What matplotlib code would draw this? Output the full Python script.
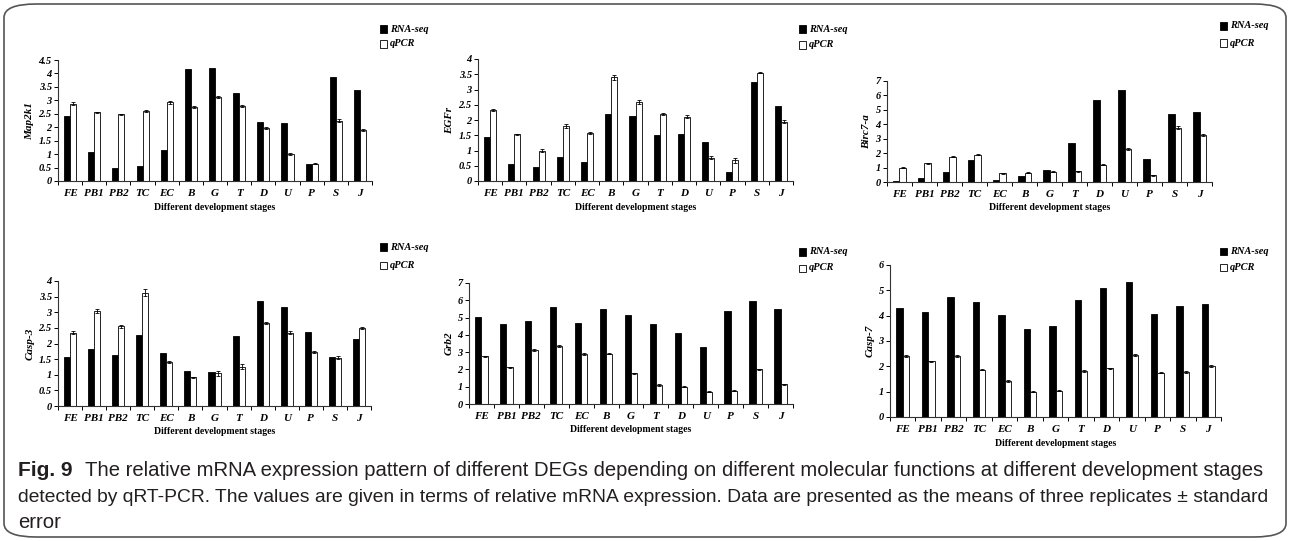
import matplotlib
matplotlib.use("Agg")
import matplotlib.pyplot as plt
import numpy as np
from matplotlib.patches import FancyBboxPatch

stages = ["FE", "PB1", "PB2", "TC", "EC", "B", "G", "T", "D", "U", "P", "S", "J"]

# Map2k1
map2k1_rna = [2.4, 1.07, 0.5, 0.55, 1.17, 4.15, 4.22, 3.27, 2.2, 2.17, 0.62, 3.88, 3.4]
map2k1_qpcr = [2.87, 2.55, 2.48, 2.6, 2.93, 2.75, 3.13, 2.8, 1.96, 1.0, 0.65, 2.25, 1.9]
map2k1_err = [0.05, 0.03, 0.03, 0.04, 0.06, 0.05, 0.03, 0.03, 0.03, 0.05, 0.02, 0.06, 0.03]

# EGFr
egfr_rna = [1.45, 0.57, 0.46, 0.78, 0.62, 2.2, 2.13, 1.52, 1.55, 1.28, 0.28, 3.25, 2.47]
egfr_qpcr = [2.32, 1.53, 1.0, 1.8, 1.58, 3.4, 2.6, 2.2, 2.1, 0.77, 0.68, 3.55, 1.95]
egfr_err = [0.03, 0.02, 0.04, 0.06, 0.04, 0.08, 0.06, 0.04, 0.05, 0.05, 0.08, 0.02, 0.05]

# Birc7-a
birc_rna = [0.08, 0.3, 0.68, 1.5, 0.15, 0.45, 0.8, 2.68, 5.68, 6.4, 1.62, 4.68, 4.85]
birc_qpcr = [1.0, 1.3, 1.75, 1.88, 0.6, 0.65, 0.72, 0.75, 1.2, 2.3, 0.48, 3.75, 3.25]
birc_err = [0.05, 0.05, 0.05, 0.04, 0.04, 0.03, 0.03, 0.03, 0.04, 0.06, 0.03, 0.1, 0.08]

# Casp-3
casp3_rna = [1.57, 1.84, 1.62, 2.27, 1.7, 1.13, 1.1, 2.25, 3.37, 3.17, 2.37, 1.58, 2.15]
casp3_qpcr = [2.35, 3.05, 2.55, 3.63, 1.4, 0.92, 1.05, 1.25, 2.67, 2.35, 1.73, 1.55, 2.5]
casp3_err = [0.05, 0.07, 0.05, 0.1, 0.03, 0.02, 0.08, 0.08, 0.03, 0.06, 0.03, 0.05, 0.03]

# Grb2
grb2_rna = [5.05, 4.6, 4.82, 5.62, 4.68, 5.52, 5.13, 4.63, 4.12, 3.3, 5.4, 5.98, 5.5]
grb2_qpcr = [2.75, 2.12, 3.12, 3.35, 2.88, 2.92, 1.78, 1.1, 1.0, 0.7, 0.78, 2.0, 1.15]
grb2_err = [0.04, 0.04, 0.04, 0.05, 0.06, 0.04, 0.03, 0.03, 0.02, 0.03, 0.03, 0.03, 0.03]

# Casp-7
casp7_rna = [4.3, 4.13, 4.72, 4.55, 4.02, 3.47, 3.6, 4.6, 5.08, 5.32, 4.07, 4.37, 4.48]
casp7_qpcr = [2.42, 2.2, 2.4, 1.87, 1.43, 1.0, 1.03, 1.82, 1.92, 2.43, 1.75, 1.77, 2.03]
casp7_err = [0.04, 0.03, 0.03, 0.03, 0.03, 0.02, 0.02, 0.04, 0.03, 0.04, 0.02, 0.03, 0.04]

caption_lines = [
    "The relative mRNA expression pattern of different DEGs depending on different "
    "molecular functions at different development stages",
    "detected by qRT-PCR. The values are given in terms of relative mRNA expression. "
    "Data are presented as the means of three replicates \u00b1 standard",
    "error",
]

W, H = 1290, 541
serif = "Liberation Serif"

# (gene, rna, qpcr, err, ymax, ystep, x0, x1, ytop, y0, legend box x, legend y1, legend y2)
panels = [
    ("Map2k1", map2k1_rna, map2k1_qpcr, map2k1_err, 4.5, 0.5, 58, 372, 60, 181, 383, 29, 44),
    ("EGFr", egfr_rna, egfr_qpcr, egfr_err, 4, 0.5, 478, 793, 59, 181, 802, 29, 45),
    ("Birc7-a", birc_rna, birc_qpcr, birc_err, 7, 1, 887, 1212, 81, 182, 1223, 26, 43),
    ("Casp-3", casp3_rna, casp3_qpcr, casp3_err, 4, 0.5, 58, 371, 281, 406, 383, 247, 265),
    ("Grb2", grb2_rna, grb2_qpcr, grb2_err, 7, 1, 469, 793, 283, 404, 802, 252, 268),
    ("Casp-7", casp7_rna, casp7_qpcr, casp7_err, 6, 1, 890, 1221, 265, 417, 1223, 251, 267),
]

fig = plt.figure(figsize=(W / 100, H / 100), dpi=100)

# rounded frame around the whole figure
frame = FancyBboxPatch((4 / W, 4 / H), 1 - 8 / W, 1 - 8 / H,
                       boxstyle="round,pad=0,rounding_size=0.025",
                       transform=fig.transFigure, fill=False,
                       edgecolor="#555555", linewidth=1.2)
fig.patches.append(frame)

x = np.arange(len(stages))
bw = 0.25
for gene, rna, qpcr, err, ymax, ystep, x0, x1, ytop, y0, lx, ly1, ly2 in panels:
    ax = fig.add_axes([x0 / W, 1 - y0 / H, (x1 - x0) / W, (y0 - ytop) / H])
    ax.bar(x - bw / 2, rna, bw, color="black", edgecolor="black", linewidth=0.6)
    ax.bar(x + bw / 2, qpcr, bw, color="white", edgecolor="black", linewidth=0.6,
           yerr=err, capsize=1.5, error_kw=dict(elinewidth=0.6, capthick=0.6, ecolor="black"))
    ax.set_xlim(-0.5, len(stages) - 0.5)
    ax.set_ylim(0, ymax)
    yt = np.arange(0, ymax + ystep / 2, ystep)
    ax.set_yticks(yt)
    ax.set_yticklabels([f"{round(v, 1):g}" for v in yt], fontfamily=serif,
                       fontweight="bold", fontstyle="italic", fontsize=7.5)
    ax.set_xticks(x)
    ax.set_xticklabels(stages, fontfamily=serif, fontweight="bold",
                       fontstyle="italic", fontsize=8)
    ax.set_xticks(np.arange(-0.5, len(stages)), minor=True)
    ax.tick_params(axis="x", which="major", length=0, pad=6)
    ax.tick_params(axis="x", which="minor", length=3, width=0.7, direction="out")
    ax.tick_params(axis="y", length=3, width=0.7, direction="out", pad=1.5)
    for side in ("top", "right"):
        ax.spines[side].set_visible(False)
    for side in ("left", "bottom"):
        ax.spines[side].set_linewidth(0.8)
        ax.spines[side].set_color("#333333")
    ax.set_ylabel(gene, fontfamily=serif, fontweight="bold", fontstyle="italic",
                  fontsize=8, labelpad=3)
    ax.set_xlabel("Different development stages", fontfamily=serif,
                  fontweight="bold", fontsize=7, labelpad=3)

    # legend
    for yy, fc, lab in ((ly1, "black", "RNA-seq"), (ly2, "white", "qPCR")):
        fig.patches.append(plt.Rectangle(((lx - 3.5) / W, 1 - (yy + 3.5) / H), 7 / W, 7 / H,
                                         transform=fig.transFigure, facecolor=fc,
                                         edgecolor="black", linewidth=0.6))
        fig.text((lx + 7) / W, 1 - yy / H, lab, fontfamily=serif, fontweight="bold",
                 fontstyle="italic", fontsize=7.5, va="center", ha="left")

# caption, each line sized to span the width it takes in the reference
cap_font = "Liberation Sans"
renderer = fig.canvas.get_renderer()
fig.text(18 / W, 1 - 470 / H, "Fig. 9", fontfamily=cap_font, fontweight="bold",
         fontsize=15, va="center", ha="left", color="#231f20")
first_size = 13
for (xs, xe, yy), line in zip([(85, 1266, 470), (18, 1266, 497), (18, None, 523)],
                              caption_lines):
    t = fig.text(xs / W, 1 - yy / H, line, fontfamily=cap_font, fontsize=first_size,
                 va="center", ha="left", color="#231f20")
    if xe is not None:
        for _ in range(3):
            w = t.get_window_extent(renderer).width
            t.set_fontsize(t.get_fontsize() * (xe - xs) / w)
        if yy == 470:
            first_size = t.get_fontsize()

fig.savefig("out.png", dpi=100)
